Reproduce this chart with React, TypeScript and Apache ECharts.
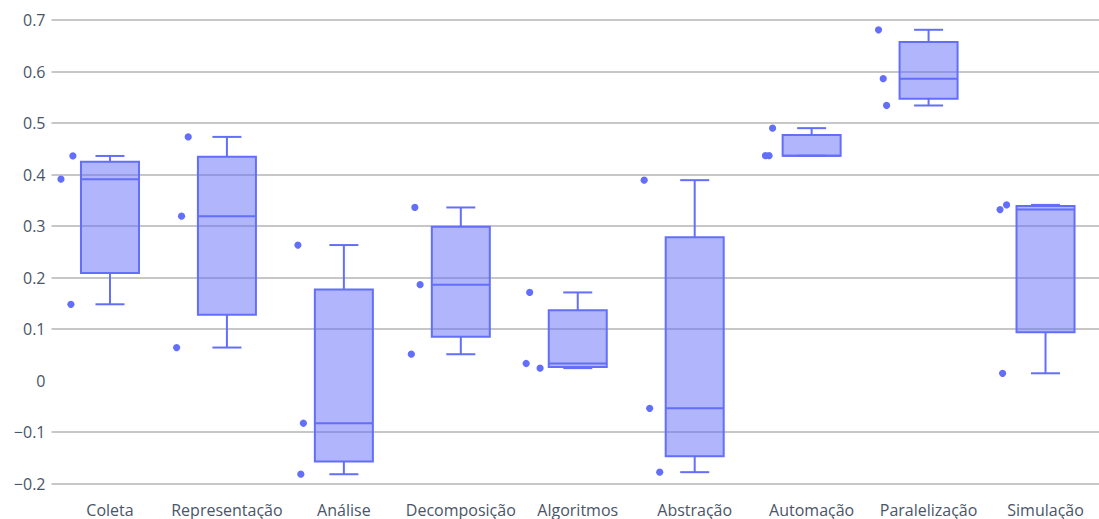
import React, { useEffect, useRef } from "react";
import * as echarts from "echarts";

// Categories (x axis)
const categories = [
  "Coleta",
  "Representação",
  "Análise",
  "Decomposição",
  "Algoritmos",
  "Abstração",
  "Automação",
  "Paralelização",
  "Simulação",
];

// Raw observations for each category
const coleta = [0.391, 0.436, 0.148];
const representacao = [0.473, 0.319, 0.064];
const analise = [0.263, -0.083, -0.182];
const decomposicao = [0.336, 0.186, 0.051];
const algoritmos = [0.171, 0.033, 0.024];
const abstracao = [0.389, -0.054, -0.178];
const automacao = [0.49, 0.4365, 0.4365];
const paralelizacao = [0.681, 0.586, 0.534];
const simulacao = [0.332, 0.341, 0.014];

const observations = [
  coleta,
  representacao,
  analise,
  decomposicao,
  algoritmos,
  abstracao,
  automacao,
  paralelizacao,
  simulacao,
];

// Horizontal jitter of the points, as a fraction of the category band
const jitter = [
  [-0.419, -0.317, -0.334],
  [-0.331, -0.388, -0.43],
  [-0.393, -0.346, -0.368],
  [-0.393, -0.348, -0.423],
  [-0.411, -0.441, -0.322],
  [-0.432, -0.385, -0.299],
  [-0.334, -0.395, -0.364],
  [-0.428, -0.388, -0.359],
  [-0.389, -0.333, -0.367],
];

// Y axis tick range
const yMin = -0.2;
const yMax = 0.7;
const yStep = 0.1;

const BLUE = "#636efa";
const FILL = "rgba(99,110,250,0.5)";
const GRID = "#b4b4b4";
const TEXT = "#4a5568";
const FONT = "'Open Sans', 'Noto Sans', sans-serif";

// Linear-interpolated quantile (position n*p - 0.5 on the sorted values)
function quantile(sorted: number[], p: number): number {
  const n = sorted.length;
  let pos = n * p - 0.5;
  if (pos < 0) pos = 0;
  if (pos > n - 1) pos = n - 1;
  const lo = Math.floor(pos);
  const hi = Math.ceil(pos);
  return sorted[lo] + (sorted[hi] - sorted[lo]) * (pos - lo);
}

function boxStats(values: number[]) {
  const s = [...values].sort((a, b) => a - b);
  return [s[0], quantile(s, 0.25), quantile(s, 0.5), quantile(s, 0.75), s[s.length - 1]];
}

export default function App() {
  const ref = useRef<HTMLDivElement>(null);

  useEffect(() => {
    if (!ref.current) return;
    const chart = echarts.init(ref.current, undefined, { renderer: "svg" });

    const boxData = observations.map((vals, i) => [i, ...boxStats(vals)]);
    const pointData: number[][] = [];
    observations.forEach((vals, i) => {
      vals.forEach((v, j) => pointData.push([i, v, jitter[i][j]]));
    });

    // y-axis grid colours: no line at zero
    const tickCount = Math.round((yMax - yMin) / yStep) + 1;
    const splitColors: string[] = [];
    for (let k = 0; k < tickCount; k++) {
      const v = yMin + k * yStep;
      splitColors.push(Math.abs(v) < 1e-9 ? "rgba(0,0,0,0)" : GRID);
    }

    chart.setOption({
      animation: false,
      backgroundColor: "#ffffff",
      grid: { left: 51.5, right: 0, top: 20, bottom: 35.5, containLabel: false },
      xAxis: {
        type: "category",
        data: categories,
        boundaryGap: true,
        axisLine: { show: false },
        axisTick: { show: false },
        splitLine: { show: false },
        axisLabel: {
          color: TEXT,
          fontFamily: FONT,
          fontSize: 16,
          margin: 18,
          interval: 0,
        },
      },
      yAxis: {
        type: "value",
        min: yMin,
        max: yMax,
        interval: yStep,
        axisLine: { show: false },
        axisTick: { show: false },
        splitLine: { show: true, lineStyle: { color: splitColors, width: 1.5 } },
        axisLabel: {
          color: TEXT,
          fontFamily: FONT,
          fontSize: 16,
          margin: 6,
          formatter: (v: number) => {
            const r = Math.round(v * 10) / 10;
            if (r === 0) return "0";
            return r < 0 ? "\u2212" + Math.abs(r).toString() : r.toString();
          },
        },
      },
      series: [
        {
          type: "custom",
          name: "box",
          data: boxData,
          encode: { x: 0, y: [1, 2, 3, 4, 5] },
          renderItem: (params: any, api: any) => {
            const idx = api.value(0);
            const band = api.size([1, 0])[0];
            const half = band * 0.248;
            const capHalf = half * 0.5;
            const pMin = api.coord([idx, api.value(1)]);
            const pQ1 = api.coord([idx, api.value(2)]);
            const pMed = api.coord([idx, api.value(3)]);
            const pQ3 = api.coord([idx, api.value(4)]);
            const pMax = api.coord([idx, api.value(5)]);
            const cx = pMed[0];
            const stroke = { stroke: BLUE, lineWidth: 2, fill: null };
            return {
              type: "group",
              children: [
                {
                  type: "rect",
                  shape: { x: cx - half, y: pQ3[1], width: half * 2, height: pQ1[1] - pQ3[1] },
                  style: { fill: FILL, stroke: BLUE, lineWidth: 2 },
                },
                {
                  type: "line",
                  shape: { x1: cx - half, y1: pMed[1], x2: cx + half, y2: pMed[1] },
                  style: stroke,
                },
                {
                  type: "line",
                  shape: { x1: cx, y1: pQ3[1], x2: cx, y2: pMax[1] },
                  style: stroke,
                },
                {
                  type: "line",
                  shape: { x1: cx, y1: pQ1[1], x2: cx, y2: pMin[1] },
                  style: stroke,
                },
                {
                  type: "line",
                  shape: { x1: cx - capHalf, y1: pMax[1], x2: cx + capHalf, y2: pMax[1] },
                  style: stroke,
                },
                {
                  type: "line",
                  shape: { x1: cx - capHalf, y1: pMin[1], x2: cx + capHalf, y2: pMin[1] },
                  style: stroke,
                },
              ],
            };
          },
        },
        {
          type: "custom",
          name: "points",
          data: pointData,
          encode: { x: 0, y: 1 },
          renderItem: (params: any, api: any) => {
            const idx = api.value(0);
            const band = api.size([1, 0])[0];
            const p = api.coord([idx, api.value(1)]);
            return {
              type: "circle",
              shape: { cx: p[0] + api.value(2) * band, cy: p[1], r: 3.6 },
              style: { fill: BLUE },
            };
          },
        },
      ],
    });

    return () => chart.dispose();
  }, []);

  // The plot area runs a few pixels past the right edge of the visible frame
  return (
    <div style={{ position: "absolute", left: 0, top: 0, width: 1099, height: 519, overflow: "hidden" }}>
      <div ref={ref} style={{ width: 1104, height: 519 }} />
    </div>
  );
}
